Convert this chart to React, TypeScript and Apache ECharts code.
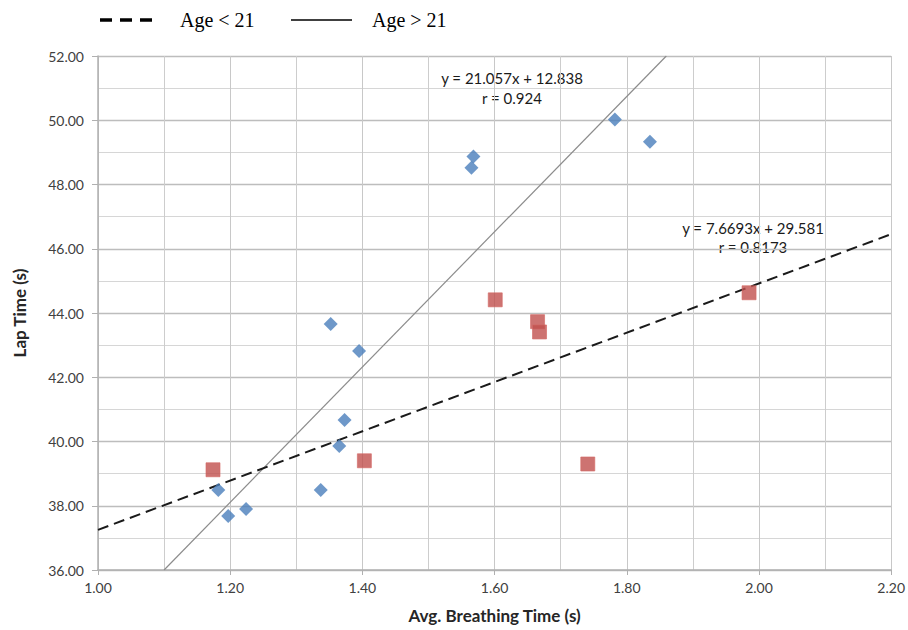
import React, { useEffect, useRef } from "react";
import * as echarts from "echarts";

// Age > 21 (blue diamonds)
const olderX = [1.182, 1.197, 1.224, 1.337, 1.365, 1.373, 1.352, 1.395, 1.565, 1.568, 1.782, 1.835];
const olderY = [38.49, 37.68, 37.9, 38.49, 39.86, 40.67, 43.66, 42.82, 48.52, 48.87, 50.02, 49.33];

// Age < 21 (red squares)
const youngX = [1.174, 1.403, 1.601, 1.665, 1.668, 1.741, 1.985];
const youngY = [39.12, 39.4, 44.41, 43.73, 43.41, 39.3, 44.63];

// Trend lines (from the equations printed on the chart)
const olderSlope = 21.057;
const olderIntercept = 12.838;
const youngSlope = 7.6693;
const youngIntercept = 29.581;

const xMin = 1.0;
const xMax = 2.2;
const yMin = 36;
const yMax = 52;

const olderLabel = ["y = 21.057x + 12.838", "r = 0.924"];
const youngLabel = ["y = 7.6693x + 29.581", "r = 0.8173"];
const legendNames = ["Age < 21", "Age > 21"];

const SANS = "Lato, 'Open Sans', sans-serif";
const SERIF = "'Liberation Serif', 'DejaVu Serif', serif";

export default function App() {
  const ref = useRef<HTMLDivElement>(null);

  useEffect(() => {
    document.body.style.margin = "0";
    if (!ref.current) return;
    const chart = echarts.init(ref.current, null, { renderer: "svg" });

    const olderData = olderX.map((x, i) => [x, olderY[i]]);
    const youngData = youngX.map((x, i) => [x, youngY[i]]);
    const olderLine = [
      [(yMin - olderIntercept) / olderSlope, yMin],
      [(yMax - olderIntercept) / olderSlope, yMax],
    ];
    const youngLine = [
      [xMin, youngSlope * xMin + youngIntercept],
      [xMax, youngSlope * xMax + youngIntercept],
    ];

    chart.setOption({
      animation: false,
      backgroundColor: "#ffffff",
      grid: { left: 98, right: 13, top: 56, bottom: 60, containLabel: false },
      xAxis: {
        type: "value",
        min: xMin,
        max: xMax,
        interval: 0.2,
        name: "Avg. Breathing Time (s)",
        nameLocation: "middle",
        nameGap: 37,
        nameTextStyle: { fontFamily: SANS, fontSize: 17, fontWeight: "bold", color: "#262626" },
        axisLine: { show: true, lineStyle: { color: "#b0b0b0", width: 1.5 } },
        axisTick: { show: true, length: 5, lineStyle: { color: "#b0b0b0" } },
        axisLabel: {
          fontFamily: SANS,
          fontSize: 14,
          color: "#404040",
          margin: 10,
          formatter: (v: number) => v.toFixed(2),
        },
        splitLine: { show: true, lineStyle: { color: "#c8c8c8", width: 1 } },
        minorTick: { show: false, splitNumber: 2 },
        minorSplitLine: { show: true, lineStyle: { color: "#cdcdcd", width: 1 } },
      },
      yAxis: {
        type: "value",
        min: yMin,
        max: yMax,
        interval: 2,
        name: "Lap Time (s)",
        nameLocation: "middle",
        nameGap: 70,
        nameTextStyle: { fontFamily: SANS, fontSize: 17, fontWeight: "bold", color: "#262626" },
        axisLine: { show: true, lineStyle: { color: "#b0b0b0", width: 1.5 } },
        axisTick: { show: true, length: 6, lineStyle: { color: "#b0b0b0" } },
        axisLabel: {
          fontFamily: SANS,
          fontSize: 14,
          color: "#404040",
          margin: 14,
          formatter: (v: number) => v.toFixed(2),
        },
        splitLine: { show: true, lineStyle: { color: "#bdbdbd", width: 1.3 } },
        minorTick: { show: false, splitNumber: 2 },
        minorSplitLine: { show: true, lineStyle: { color: "#d6d6d6", width: 1 } },
      },
      series: [
        {
          name: legendNames[1] + " trend",
          type: "line",
          data: olderLine,
          symbol: "none",
          clip: true,
          lineStyle: { color: "#8c8c8c", width: 1.2, type: "solid" },
          z: 3,
        },
        {
          name: legendNames[0] + " trend",
          type: "line",
          data: youngLine,
          symbol: "none",
          clip: true,
          lineStyle: { color: "#1a1a1a", width: 2, type: [11, 6] },
          z: 3,
        },
        {
          name: legendNames[1],
          type: "scatter",
          data: olderData,
          symbol: "diamond",
          symbolSize: 14,
          itemStyle: { color: "#4a7ebb" },
          z: 4,
        },
        {
          name: legendNames[0],
          type: "scatter",
          data: youngData,
          symbol: "rect",
          symbolSize: 14,
          itemStyle: { color: "#c0504d", borderColor: "#d46a67", borderWidth: 0.8 },
          z: 4,
        },
      ],
      graphic: [
        {
          type: "line",
          shape: { x1: 100, y1: 20, x2: 160, y2: 20 },
          style: { stroke: "#000", lineWidth: 3.5, lineDash: [12, 8] },
        },
        {
          type: "text",
          x: 180,
          y: 20,
          style: { text: legendNames[0], font: `20px ${SERIF}`, fill: "#000", verticalAlign: "middle" },
        },
        {
          type: "line",
          shape: { x1: 291, y1: 20, x2: 352, y2: 20 },
          style: { stroke: "#000", lineWidth: 1.5 },
        },
        {
          type: "text",
          x: 372,
          y: 20,
          style: { text: legendNames[1], font: `20px ${SERIF}`, fill: "#000", verticalAlign: "middle" },
        },
        {
          type: "text",
          x: 512,
          y: 88,
          style: {
            text: olderLabel.join("\n"),
            font: `15px ${SANS}`,
            fill: "#1a1a1a",
            align: "center",
            verticalAlign: "middle",
            lineHeight: 20,
          },
        },
        {
          type: "text",
          x: 753,
          y: 237,
          style: {
            text: youngLabel.join("\n"),
            font: `15px ${SANS}`,
            fill: "#1a1a1a",
            align: "center",
            verticalAlign: "middle",
            lineHeight: 19,
          },
        },
      ],
    });

    return () => chart.dispose();
  }, []);

  return <div ref={ref} style={{ width: 908, height: 630 }} />;
}
